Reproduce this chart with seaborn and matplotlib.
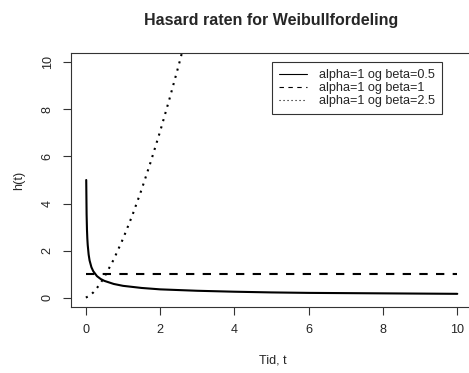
import matplotlib
matplotlib.use("Agg")
import matplotlib.pyplot as plt
from matplotlib.lines import Line2D
import seaborn as sns
import pandas as pd

sns.set_style("white")
plt.rcParams["font.family"] = ["Liberation Sans", "DejaVu Sans"]

# Hazard rate h(t) for the Weibull distribution, alpha = 1
t_beta05 = [0.01, 0.02, 0.03, 0.04, 0.05, 0.075, 0.1, 0.15, 0.2, 0.3, 0.4, 0.5,
            0.75, 1.0, 1.5, 2.0, 3.0, 4.0, 5.0, 6.0, 7.0, 8.0, 9.0, 10.0]
h_beta05 = [5.00, 3.54, 2.89, 2.50, 2.24, 1.83, 1.58, 1.29, 1.12, 0.91, 0.79, 0.71,
            0.58, 0.50, 0.41, 0.35, 0.29, 0.25, 0.22, 0.20, 0.19, 0.18, 0.17, 0.16]

t_beta1 = [0.0, 10.0]
h_beta1 = [1.0, 1.0]

t_beta25 = [0.0, 0.1, 0.2, 0.3, 0.4, 0.5, 0.75, 1.0, 1.25, 1.5, 1.75, 2.0,
            2.25, 2.5, 2.75]
h_beta25 = [0.00, 0.08, 0.22, 0.41, 0.63, 0.88, 1.62, 2.50, 3.49, 4.59, 5.79,
            7.07, 8.44, 9.88, 11.40]

legend_labels = ["alpha=1 og beta=0.5", "alpha=1 og beta=1", "alpha=1 og beta=2.5"]
x_ticks = [0, 2, 4, 6, 8, 10]
y_ticks = [0, 2, 4, 6, 8, 10]

W, H, DPI = 469, 373, 100
FS = 9.1
fig = plt.figure(figsize=(W / DPI, H / DPI), dpi=DPI)
# plot region in pixel coordinates
left, right, top, bottom = 71, 474, 53, 307
ax = fig.add_axes([left / W, 1 - bottom / H, (right - left) / W, (bottom - top) / H])

lw = 1.5
styles = [(t_beta05, h_beta05, "-"), (t_beta1, h_beta1, (0, (4, 4))),
          (t_beta25, h_beta25, (0, (1, 2.6)))]
for tt, hh, ls in styles:
    df = pd.DataFrame({"t": tt, "h": hh})
    sns.lineplot(data=df, x="t", y="h", ax=ax, color="black", linewidth=lw,
                 linestyle=ls, estimator=None, sort=False)

ax.set_xlim(-0.4, 10.45)
ax.set_ylim(-0.4, 10.4)
ax.set_xticks(x_ticks)
ax.set_yticks(y_ticks)
ax.set_xticklabels([str(v) for v in x_ticks], fontsize=FS)
ax.set_yticklabels([str(v) for v in y_ticks], fontsize=FS, rotation=90, va="center")
ax.tick_params(axis="both", direction="out", length=5.5, width=0.8, color="#333333",
               pad=7, left=True, bottom=True)
for s in ax.spines.values():
    s.set_visible(True)
    s.set_color("#333333")
    s.set_linewidth(0.8)

ax.set_xlabel("Tid, t", fontsize=FS, labelpad=13)
ax.set_ylabel("h(t)", fontsize=FS, labelpad=12)
fig.text(271 / W, 1 - 20 / H, "Hasard raten for Weibullfordeling",
         ha="center", va="center", fontsize=11.5, fontweight="bold")

handles = [Line2D([], [], color="black", lw=0.8, linestyle=ls) for _, _, ls in styles]
handles[1].set_linestyle((0, (4, 4)))
leg = ax.legend(handles, legend_labels, loc="upper left",
                bbox_to_anchor=((272 - left) / (right - left), 1 - (62 - top) / (bottom - top)),
                fontsize=FS, frameon=True, fancybox=False, handlelength=2.2,
                handletextpad=1.0, labelspacing=0.08, borderpad=0.55, borderaxespad=0)
leg.get_frame().set_edgecolor("black")
leg.get_frame().set_linewidth(0.8)

fig.savefig("out.png", dpi=DPI)
